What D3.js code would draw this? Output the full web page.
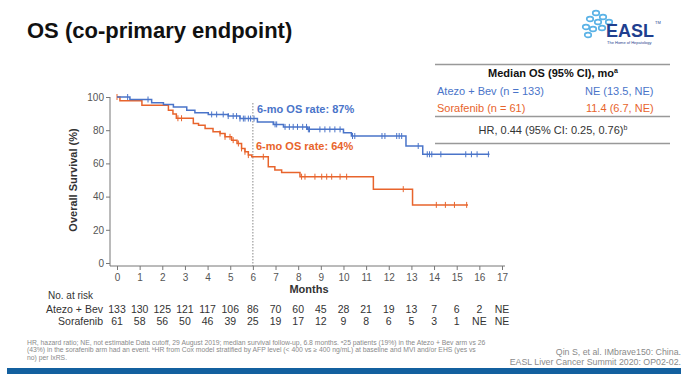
<!DOCTYPE html>
<html>
<head>
<meta charset="utf-8">
<script src="https://cdn.jsdelivr.net/npm/d3@7"></script>
<style>
  body { margin: 0; background: #fff; }
  svg { font-family: "Liberation Sans", Arial, sans-serif; }
  .tick text { fill: #555; font-size: 10px; }
  .domain, .tick line { stroke: #777; }
</style>
</head>
<body>
<div id="chart"></div>
<script>
/* KM curve for overall survival, Atezo + Bev vs Sorafenib */

// step points: [month, survival %] where survival drops
const atezoSteps = [[0, 100], [0.57, 98.5], [1.53, 96.5], [2.05, 95.5], [2.49, 94], [3.08, 92], [3.44, 90.5],
  [4.03, 89.5], [4.91, 88.5], [5.43, 87], [6.2, 85], [6.9, 83.5], [7.35, 82], [8.4, 80.5], [10.0, 78.5],
  [10.35, 76.5], [12.76, 70.5], [13.5, 65.5]];
const atezoEnd = 16.45;
const atezoCensor = [0.47, 1.37, 4.18, 4.4, 4.69, 4.91, 5.13, 5.28, 5.43, 5.58, 5.65, 5.8, 5.9, 6.05, 6.98,
  7.05, 7.42, 7.61, 7.78, 7.97, 8.2, 8.37, 8.45, 8.5, 8.96, 9.18, 9.4, 9.62, 9.85, 10.4, 10.5, 11.7, 11.83,
  12.35, 12.46, 12.57, 13.3, 13.7, 13.8, 13.9, 14.3, 15.4, 15.65, 15.9, 16.4];

const sorafSteps = [[0, 100], [0.13, 97.8], [1.1, 95], [2.27, 92], [2.47, 89.8], [2.62, 87.2], [3.37, 84],
  [3.6, 83], [3.89, 81], [4.24, 79], [4.55, 78], [4.77, 76], [5.06, 74], [5.3, 72], [5.5, 69], [5.65, 67],
  [5.8, 65], [5.95, 64], [6.68, 58], [6.97, 56], [7.27, 54.5], [8.08, 52], [11.32, 44.5], [13.05, 35]];
const sorafEnd = 15.5;
const sorafCensor = [0, 2.69, 2.85, 4.55, 4.77, 4.99, 5.13, 5.36, 5.5, 5.65, 5.8, 6.46, 8.15, 8.3, 8.74,
  9.04, 9.26, 9.48, 9.85, 10.14, 12.64, 14.1, 14.5, 14.9, 15.44];

const monthTicks = [0, 1, 2, 3, 4, 5, 6, 7, 8, 9, 10, 11, 12, 13, 14, 15, 16, 17];
const survTicks = [0, 20, 40, 60, 80, 100];
const riskAtezo = ["133", "130", "125", "121", "117", "106", "86", "70", "60", "45", "28", "21", "19", "13", "7", "6", "2", "NE"];
const riskSoraf = ["61", "58", "56", "50", "46", "39", "25", "19", "17", "12", "9", "8", "6", "5", "3", "1", "NE", "NE"];

function create_km() {
  let width = 693, height = 380;
  const blue = "#4a74c9", orange = "#e8642c";

  const svg = d3.select("#chart").append("svg")
    .attr("width", width).attr("height", height);

  // title
  svg.append("text").attr("x", 27).attr("y", 38)
    .style("font-size", "22px").style("font-weight", "bold").attr("fill", "#111")
    .text("OS (co-primary endpoint)");

  // EASL logo (simplified)
  const logo = svg.append("g").attr("transform", "translate(582,9)");
  [[14, 4], [21, 8], [8, 10], [16, 13], [4, 18], [11, 20], [6, 26], [20, 19], [27, 13]].forEach(p => {
    logo.append("ellipse").attr("cx", p[0]).attr("cy", p[1]).attr("rx", 3.3).attr("ry", 2.4)
      .attr("fill", "none").attr("stroke", "#5ab2e6").attr("stroke-width", 1.6);
  });
  logo.append("text").attr("x", 24).attr("y", 28).style("font-size", "18px").style("font-weight", "bold")
    .attr("fill", "#1f3f8f").text("EASL");
  logo.append("text").attr("x", 73).attr("y", 15).style("font-size", "4px").attr("fill", "#1f3f8f").text("TM");
  logo.append("text").attr("x", 25).attr("y", 35).style("font-size", "4px").attr("fill", "#1f3f8f")
    .text("The Home of Hepatology");

  let x = d3.scaleLinear().domain([0, 17]).range([117, 502]);
  let y = d3.scaleLinear().domain([0, 100]).range([263, 97]);

  // axes
  svg.append("g").attr("transform", "translate(0,266)")
    .call(d3.axisBottom(x).tickValues(monthTicks).tickSize(4).tickSizeOuter(0).tickPadding(4))
    .call(g => g.select(".domain").attr("d", "M110,0H505"));
  svg.append("g").attr("transform", "translate(110,0)")
    .call(d3.axisLeft(y).tickValues(survTicks).tickSize(4).tickSizeOuter(0).tickPadding(2))
    .call(g => g.select(".domain").attr("d", "M0,97V266"));

  svg.append("text").attr("x", 309).attr("y", 293).attr("text-anchor", "middle")
    .style("font-size", "11px").style("font-weight", "bold").attr("fill", "#333").text("Months");
  svg.append("text").attr("transform", "translate(77,180) rotate(-90)").attr("text-anchor", "middle")
    .style("font-size", "11px").style("font-weight", "bold").attr("fill", "#333").text("Overall Survival (%)");

  // 6-month reference line
  svg.append("line").attr("x1", x(6)).attr("x2", x(6)).attr("y1", 103).attr("y2", 266)
    .attr("stroke", "#888").attr("stroke-dasharray", "1.5,1.5");

  // curves
  const line = d3.line().x(d => x(d[0])).y(d => y(d[1])).curve(d3.curveStepAfter);
  function survAt(steps, t) {
    let s = steps[0][1];
    for (let p of steps) if (p[0] <= t) s = p[1];
    return s;
  }
  function drawArm(steps, end, censor, color) {
    const pts = steps.concat([[end, steps[steps.length - 1][1]]]);
    svg.append("path").datum(pts).attr("d", line)
      .attr("fill", "none").attr("stroke", color).attr("stroke-width", 1.5);
    svg.append("g").selectAll("line").data(censor).join("line")
      .attr("x1", d => x(d)).attr("x2", d => x(d))
      .attr("y1", d => y(survAt(steps, d)) - 3).attr("y2", d => y(survAt(steps, d)) + 3)
      .attr("stroke", color).attr("stroke-width", 1);
  }
  drawArm(sorafSteps, sorafEnd, sorafCensor, orange);
  drawArm(atezoSteps, atezoEnd, atezoCensor, blue);

  svg.append("text").attr("x", 257).attr("y", 113).style("font-size", "11px").style("font-weight", "bold")
    .attr("fill", blue).text("6-mo OS rate: 87%");
  svg.append("text").attr("x", 256).attr("y", 150).style("font-size", "11px").style("font-weight", "bold")
    .attr("fill", orange).text("6-mo OS rate: 64%");

  // median OS table
  [64.5, 116.5, 143.5].forEach(ly => {
    svg.append("line").attr("x1", 435).attr("x2", 670).attr("y1", ly).attr("y2", ly)
      .attr("stroke", "#999").attr("stroke-width", 1.5);
  });
  const hdr = svg.append("text").attr("x", 553).attr("y", 77).attr("text-anchor", "middle")
    .style("font-size", "11px").style("font-weight", "bold").attr("fill", "#111");
  hdr.append("tspan").text("Median OS (95% CI), mo");
  hdr.append("tspan").attr("dy", -4).style("font-size", "7px").text("a");
  svg.append("text").attr("x", 437).attr("y", 95).style("font-size", "11px").attr("fill", blue).text("Atezo + Bev (n = 133)");
  svg.append("text").attr("x", 585).attr("y", 95).style("font-size", "11px").attr("fill", blue).text("NE (13.5, NE)");
  svg.append("text").attr("x", 437).attr("y", 112).style("font-size", "11px").attr("fill", orange).text("Sorafenib (n = 61)");
  svg.append("text").attr("x", 586).attr("y", 112).style("font-size", "11px").attr("fill", orange).text("11.4 (6.7, NE)");
  const hr = svg.append("text").attr("x", 553).attr("y", 134).attr("text-anchor", "middle")
    .style("font-size", "11px").attr("fill", "#333");
  hr.append("tspan").text("HR, 0.44 (95% CI: 0.25, 0.76)");
  hr.append("tspan").attr("dy", -4).style("font-size", "7px").text("b");

  // number at risk
  svg.append("text").attr("x", 48).attr("y", 299).style("font-size", "10px").attr("fill", "#333").text("No. at risk");
  svg.append("text").attr("x", 103).attr("y", 313).attr("text-anchor", "end").style("font-size", "10.5px")
    .attr("fill", "#333").text("Atezo + Bev");
  svg.append("text").attr("x", 103).attr("y", 325).attr("text-anchor", "end").style("font-size", "10.5px")
    .attr("fill", "#333").text("Sorafenib");
  svg.append("g").selectAll("text").data(riskAtezo).join("text")
    .attr("x", (d, i) => x(monthTicks[i])).attr("y", 313).attr("text-anchor", "middle")
    .style("font-size", "10.5px").attr("fill", "#333").text(d => d);
  svg.append("g").selectAll("text").data(riskSoraf).join("text")
    .attr("x", (d, i) => x(monthTicks[i])).attr("y", 325).attr("text-anchor", "middle")
    .style("font-size", "10.5px").attr("fill", "#333").text(d => d);

  // footnotes
  const notes = [
    "HR, hazard ratio; NE, not estimable Data cutoff, 29 August 2019; median survival follow-up, 6.8 months. \u1D4325 patients (19%) in the Atezo + Bev arm vs 26",
    "(43%) in the sorafenib arm had an event. \u1D47HR from Cox model stratified by AFP level (< 400 vs \u2265 400 ng/mL) at baseline and MVI and/or EHS (yes vs",
    "no) per IxRS."
  ];
  svg.append("g").selectAll("text").data(notes).join("text")
    .attr("x", 27).attr("y", (d, i) => 344.5 + i * 7.6)
    .style("font-size", "6.8px").attr("fill", "#8a8a8a").text(d => d);
  svg.append("text").attr("x", 681).attr("y", 355).attr("text-anchor", "end")
    .style("font-size", "8.8px").attr("fill", "#8a8a8a").text("Qin S, et al. IMbrave150: China.");
  svg.append("text").attr("x", 681).attr("y", 365).attr("text-anchor", "end")
    .style("font-size", "8.8px").attr("fill", "#8a8a8a").text("EASL Liver Cancer Summit 2020: OP02-02.");

  svg.append("rect").attr("x", 7).attr("y", 368).attr("width", 674).attr("height", 6).attr("fill", "#13609f");
}

create_km();
</script>
</body>
</html>
